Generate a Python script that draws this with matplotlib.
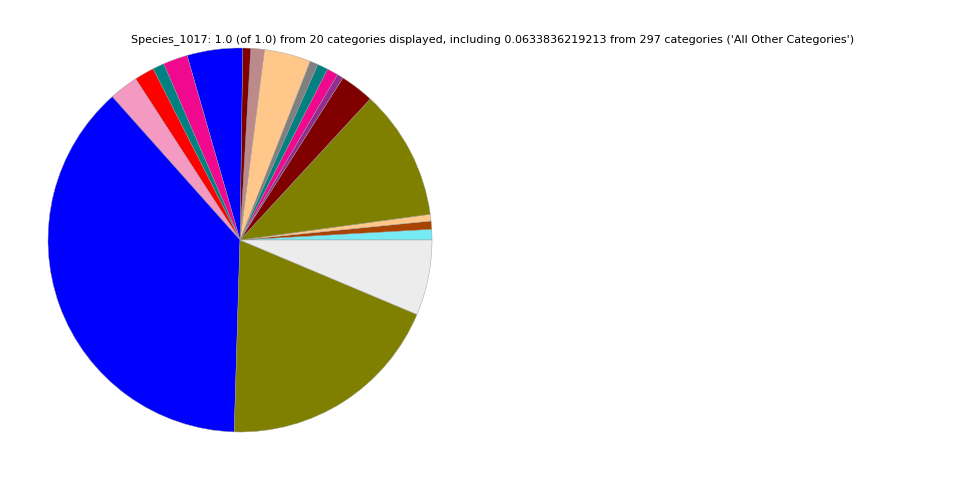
import numpy as np
import matplotlib
matplotlib.use('Agg')
import matplotlib.pyplot as plt

# fractions, counterclockwise from 0 degrees
valores = [0.0089, 0.0069, 0.0056, 0.1100, 0.0286, 0.0053, 0.0094, 0.0089, 0.0069, 0.0392,
           0.0114, 0.0067, 0.0467, 0.0206, 0.0097, 0.0167, 0.0244, 0.3794, 0.1914, 0.0634]
colores = ['#77ebf3', '#a84300', '#ffc88a', '#808000', '#800000', '#912c91', '#f0088f', '#008080',
           '#808080', '#ffc88a', '#bc8a8a', '#800000', '#0000ff', '#f0088f', '#008080', '#ff0000',
           '#f49ac2', '#0000ff', '#808000', '#ececec']
titulo = ("Species_1017: 1.0 (of 1.0) from 20 categories displayed, including "
          "0.0633836219213 from 297 categories ('All Other Categories')")

fig = plt.figure(figsize=(9.6, 4.8), dpi=100)
ax = fig.add_axes([48/960, 48/480, 384/960, 384/480])
ax.pie(valores, colors=colores, startangle=0, counterclock=True,
       wedgeprops={'linewidth': 0.3, 'edgecolor': '#999999'})
ax.set_xlim(-1, 1)
ax.set_ylim(-1, 1)
ax.set_aspect('equal')
ax.axis('off')

fig.text(492.5/960, 1 - 40/480, titulo, ha='center', va='center', fontsize=8)

plt.savefig('out.png', dpi=100)
